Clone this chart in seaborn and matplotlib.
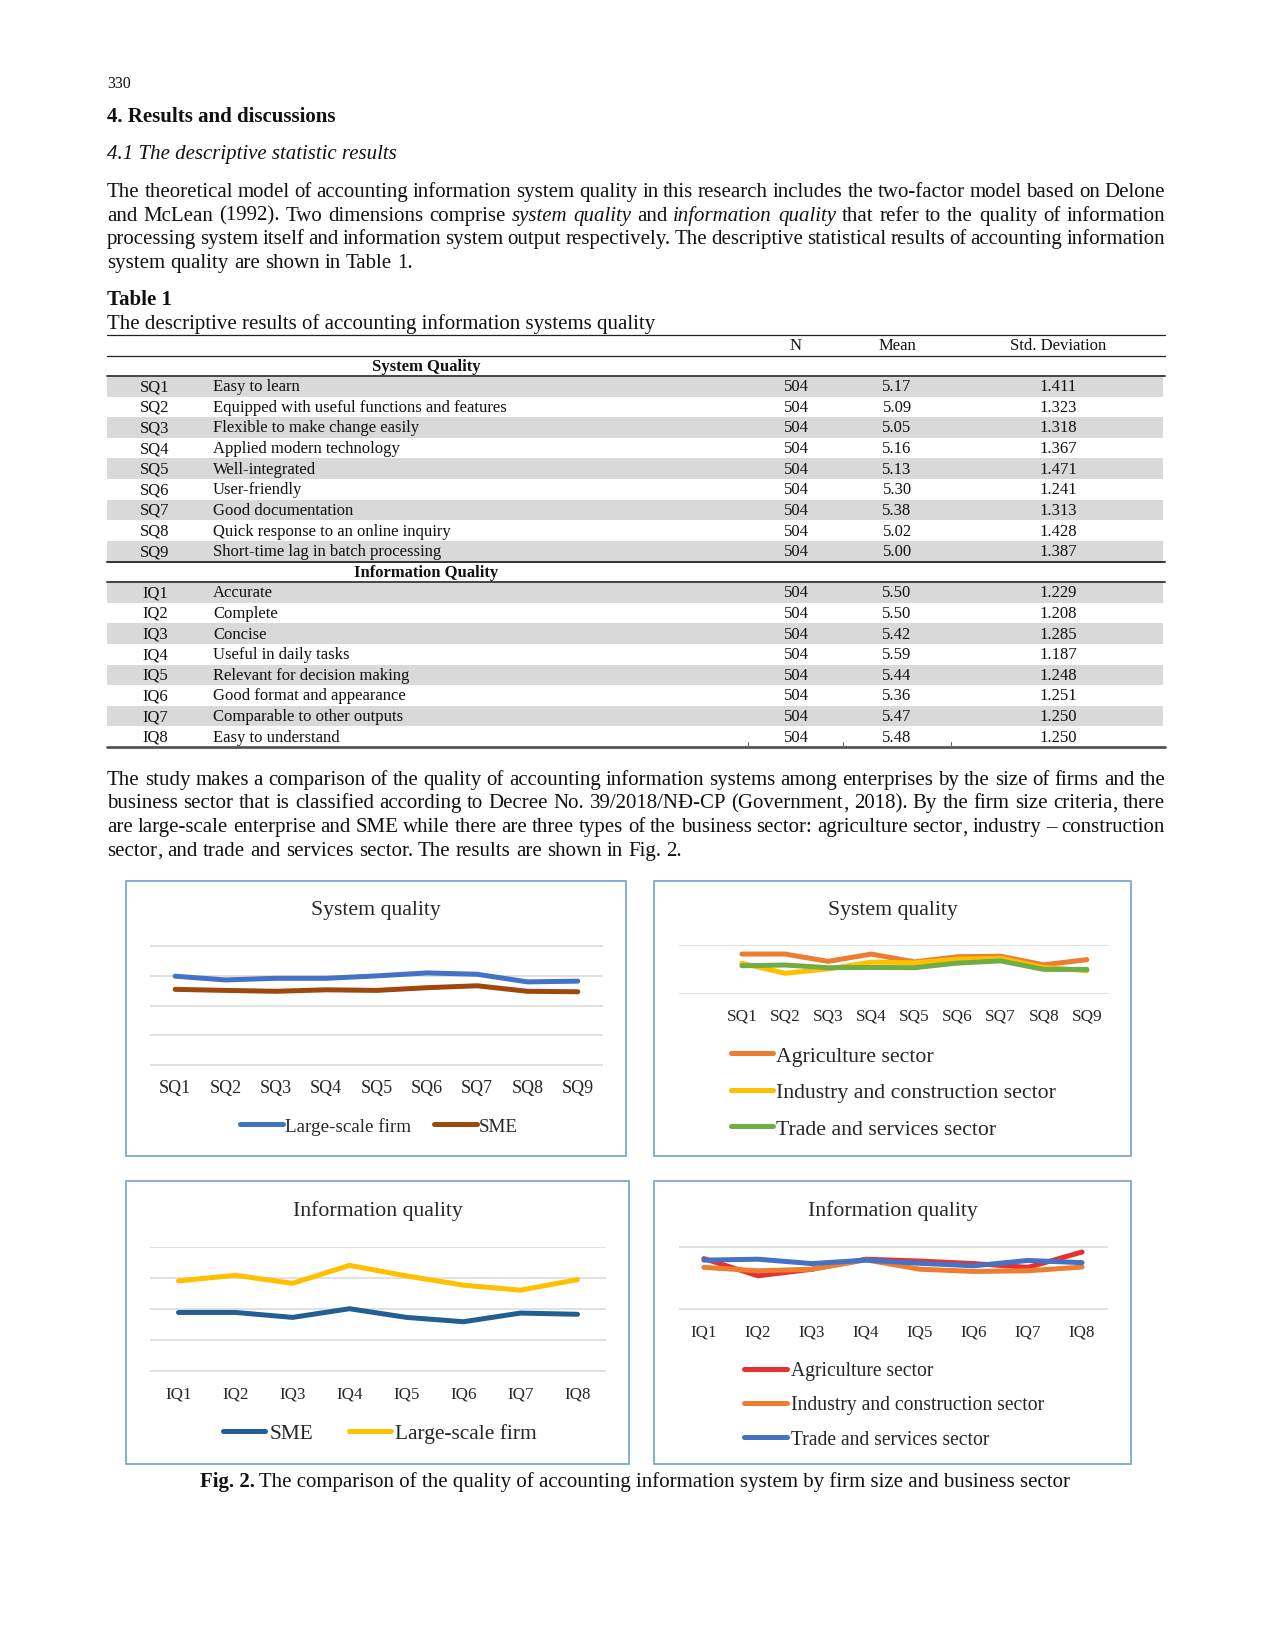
import numpy as np
import pandas as pd
import matplotlib
matplotlib.use("Agg")
import matplotlib.pyplot as plt
import seaborn as sns
from matplotlib.patches import Rectangle
from matplotlib.lines import Line2D

W, H = 1274, 1649
sns.set_theme(style="white")
plt.rcParams["font.family"] = ["Liberation Serif", "DejaVu Serif"]

# Table 1 data
sq_codes = ["SQ1", "SQ2", "SQ3", "SQ4", "SQ5", "SQ6", "SQ7", "SQ8", "SQ9"]
sq_items = ["Easy to learn", "Equipped with useful functions and features",
            "Flexible to make change easily", "Applied modern technology",
            "Well-integrated", "User-friendly", "Good documentation",
            "Quick response to an online inquiry", "Short-time lag in batch processing"]
sq_n = [504, 504, 504, 504, 504, 504, 504, 504, 504]
sq_mean = [5.17, 5.09, 5.05, 5.16, 5.13, 5.30, 5.38, 5.02, 5.00]
sq_std = [1.411, 1.323, 1.318, 1.367, 1.471, 1.241, 1.313, 1.428, 1.387]

iq_codes = ["IQ1", "IQ2", "IQ3", "IQ4", "IQ5", "IQ6", "IQ7", "IQ8"]
iq_items = ["Accurate", "Complete", "Concise", "Useful in daily tasks",
            "Relevant for decision making", "Good format and appearance",
            "Comparable to other outputs", "Easy to understand"]
iq_n = [504, 504, 504, 504, 504, 504, 504, 504]
iq_mean = [5.50, 5.50, 5.42, 5.59, 5.44, 5.36, 5.47, 5.48]
iq_std = [1.229, 1.208, 1.285, 1.187, 1.248, 1.251, 1.250, 1.250]

# Fig. 2 data
size_sq_large = [5.96, 5.71, 5.82, 5.82, 5.98, 6.18, 6.09, 5.58, 5.63]
size_sq_sme = [5.08, 5.01, 4.95, 5.05, 5.01, 5.19, 5.32, 4.95, 4.92]
sector_sq_agri = [5.64, 5.64, 5.34, 5.64, 5.32, 5.53, 5.55, 5.20, 5.41]
sector_sq_ind = [5.26, 4.85, 5.03, 5.31, 5.28, 5.43, 5.47, 5.09, 4.96]
sector_sq_trade = [5.16, 5.19, 5.08, 5.09, 5.08, 5.27, 5.36, 5.01, 5.01]
size_iq_sme = [5.45, 5.45, 5.37, 5.51, 5.37, 5.30, 5.44, 5.42]
size_iq_large = [5.96, 6.05, 5.92, 6.21, 6.04, 5.89, 5.81, 5.98]
sector_iq_agri = [5.62, 5.07, 5.28, 5.60, 5.54, 5.46, 5.34, 5.83]
sector_iq_ind = [5.34, 5.23, 5.28, 5.58, 5.28, 5.21, 5.23, 5.35]
sector_iq_trade = [5.57, 5.60, 5.46, 5.57, 5.47, 5.39, 5.56, 5.49]

para1 = ["The theoretical model of accounting information system quality in this research includes the two-factor model based on Delone",
         "and McLean (1992). Two dimensions comprise _system _quality and _information _quality that refer to the quality of information",
         "processing system itself and information system output respectively. The descriptive statistical results of accounting information",
         "system quality are shown in Table 1."]
para2 = ["The study makes a comparison of the quality of accounting information systems among enterprises by the size of firms and the",
         "business sector that is classified according to Decree No. 39/2018/NĐ-CP (Government, 2018). By the firm size criteria, there",
         "are large-scale enterprise and SME while there are three types of the business sector: agriculture sector, industry – construction",
         "sector, and trade and services sector. The results are shown in Fig. 2."]

fig = plt.figure(figsize=(W / 100, H / 100), dpi=100)
fig.patch.set_facecolor("white")
renderer = fig.canvas.get_renderer()

X0, X1 = 107, 1165
BODY = 15
TXT = "#111111"
CTXT = "#262626"


def put(x, y, s, size=BODY, ha="left", va="center", color=TXT, **kw):
    return fig.text(x / W, 1 - y / H, s, fontsize=size, ha=ha, va=va, color=color, **kw)


def hline(x0, x1, y, lw, color="#222222"):
    fig.add_artist(Line2D([x0 / W, x1 / W], [1 - y / H, 1 - y / H], lw=lw, color=color,
                          transform=fig.transFigure))


def justified(y, line, last=False, size=BODY):
    # y is the visual centre of the line; words sit on a common baseline,
    # a trailing comma gets its own text so the word is not nudged by it
    base = y + 0.235 * size / 72 * 100
    units = []
    for w in line.split(" "):
        st = "italic" if w.startswith("_") else "normal"
        w = w.lstrip("_")
        parts = [w[:-1], ","] if w.endswith(",") and len(w) > 1 else [w]
        arts = [put(0, base, p, size=size, va="baseline", style=st) for p in parts]
        units.append((arts, [a.get_window_extent(renderer).width for a in arts]))
    total = sum(sum(ws) for _, ws in units)
    gap = size * 0.25 / 72 * 100 if last else (X1 - X0 - total) / (len(units) - 1)
    x = X0
    for arts, ws in units:
        for a, w in zip(arts, ws):
            a.set_x(x / W)
            x += w
        x += gap


# header text
put(X0, 84, "330", size=11.5)
put(X0, 117, "4. Results and discussions", weight="bold")
put(X0, 155, "4.1 The descriptive statistic results", style="italic")
for i, line in enumerate(para1):
    justified(192 + i * 23.8, line, last=(i == len(para1) - 1))

# table
put(X0, 300, "Table 1", weight="bold")
put(X0, 324, "The descriptive results of accounting information systems quality")
TS = 12
hline(X0, X1, 336, 0.9)
put(796, 346, "N", size=TS, ha="center")
put(897, 346, "Mean", size=TS, ha="center")
put(1058, 346, "Std. Deviation", size=TS, ha="center")
hline(X0, X1, 356.5, 0.9)


def table_block(title, title_y, codes, items, ns, means, stds, y_first):
    put(426, title_y, title, size=TS, weight="bold", ha="center")
    for i in range(len(codes)):
        y = y_first + i * 20.63
        if i % 2 == 0:
            fig.add_artist(Rectangle((X0 / W, 1 - (y + 10.3) / H), (X1 - 2 - X0) / W, 20.6 / H,
                                     transform=fig.transFigure, color="#d9d9d9", lw=0))
        put(155, y, codes[i], size=TS, ha="center")
        put(213, y, items[i], size=TS)
        put(796, y, f"{ns[i]}", size=TS, ha="center")
        put(897, y, f"{means[i]:.2f}", size=TS, ha="center")
        put(1058, y, f"{stds[i]:.3f}", size=TS, ha="center")


table_block("System Quality", 367, sq_codes, sq_items, sq_n, sq_mean, sq_std, 387.2)
hline(X0, X1, 377, 1.4, "#444444")
hline(X0, X1, 562.8, 1.4, "#333333")
table_block("Information Quality", 573, iq_codes, iq_items, iq_n, iq_mean, iq_std, 593.3)
hline(X0, X1, 583, 1.4, "#444444")
hline(X0, X1, 748.3, 2.0, "#555555")
for xv in [748, 843, 951]:
    fig.add_artist(Line2D([xv / W, xv / W], [1 - 743 / H, 1 - 748 / H], lw=0.8, color="#666666",
                          transform=fig.transFigure))

for i, line in enumerate(para2):
    justified(780 + i * 23.6, line, last=(i == len(para2) - 1))

# charts
BORDER = "#7ea6d8"


def chart(box, area, cats, names, values, colors, ylim, yticks, xlim, title, tick_y, tick_size, leg):
    bx0, by0, bx1, by1 = box
    fig.add_artist(Rectangle((bx0 / W, 1 - by1 / H), (bx1 - bx0) / W, (by1 - by0) / H,
                             transform=fig.transFigure, fill=False, ec=BORDER, lw=1.3))
    put((bx0 + bx1) / 2, by0 + 29, title, size=15.7, ha="center", color=CTXT)
    ax0, ay0, ax1, ay1 = area
    ax = fig.add_axes([ax0 / W, 1 - ay1 / H, (ax1 - ax0) / W, (ay1 - ay0) / H])
    ax.patch.set_alpha(0)
    df = pd.DataFrame({"item": cats * len(names),
                       "group": np.repeat(names, len(cats)),
                       "value": np.concatenate(values)})
    sns.lineplot(data=df, x="item", y="value", hue="group", hue_order=names,
                 palette=dict(zip(names, colors)), lw=3.6, sort=False, legend=False, ax=ax,
                 solid_capstyle="round", solid_joinstyle="round")
    pad_y = (ylim[1] - ylim[0]) * 0.006
    ax.set_ylim(ylim[0] - pad_y, ylim[1] + pad_y)
    ax.set_xlim(*xlim)
    ax.set_yticks(yticks)
    ax.yaxis.grid(True, color="#d9d9d9", lw=1.1)
    ax.xaxis.grid(False)
    ax.set_axisbelow(True)
    for s in ax.spines.values():
        s.set_visible(False)
    ax.set_xlabel("")
    ax.set_ylabel("")
    size_px = tick_size / 72 * 100
    pad = max(tick_y - ay1 - 0.58 * size_px - 6, 1) * 0.72
    ax.tick_params(axis="y", left=False, labelleft=False)
    ax.tick_params(axis="x", bottom=False, pad=pad, labelsize=tick_size, labelcolor=CTXT)
    handles = [Line2D([], [], color=c, lw=3.6, solid_capstyle="round") for c in colors]
    lx, ly = leg.pop("anchor")
    ax.legend(handles, names, bbox_to_anchor=(lx / W, 1 - ly / H), bbox_transform=fig.transFigure,
              frameon=False, borderpad=0, borderaxespad=0, labelcolor=CTXT, **leg)


chart((126, 882, 626, 1157), (150, 946, 603, 1067), sq_codes,
      ["Large-scale firm", "SME"], [size_sq_large, size_sq_sme], ["#4472c4", "#9e480e"],
      (0, 8), [0, 2, 4, 6, 8], (-0.5, 8.5), "System quality", 1088, 13,
      dict(anchor=(379, 1127), loc="center", ncol=2, fontsize=13.7, handlelength=2.25,
           handletextpad=0.1, columnspacing=1.2))

chart((654, 882, 1131, 1157), (679, 946, 1108, 995.3), sq_codes,
      ["Agriculture sector", "Industry and construction sector", "Trade and services sector"],
      [sector_sq_agri, sector_sq_ind, sector_sq_trade], ["#ed7d31", "#ffc000", "#70ad47"],
      (4, 6), [4, 6], (-1.46, 8.49), "System quality", 1016, 12.4,
      dict(anchor=(731, 1093), loc="center left", ncol=1, fontsize=15.7, handlelength=1.93,
           handletextpad=0.14, labelspacing=0.74))

chart((126, 1182, 629, 1465), (150, 1247.7, 606, 1373), iq_codes,
      ["SME", "Large-scale firm"], [size_iq_sme, size_iq_large], ["#255e91", "#ffc000"],
      (4.5, 6.5), [4.5, 5.0, 5.5, 6.0, 6.5], (-0.5, 7.5), "Information quality", 1394, 12.2,
      dict(anchor=(380, 1434), loc="center", ncol=2, fontsize=15.4, handlelength=1.96,
           handletextpad=0.2, columnspacing=1.66))

chart((654, 1182, 1131, 1465), (679, 1247.3, 1108, 1310.7), iq_codes,
      ["Agriculture sector", "Industry and construction sector", "Trade and services sector"],
      [sector_iq_agri, sector_iq_ind, sector_iq_trade], ["#e8312f", "#ed7d31", "#4472c4"],
      (4, 6), [4, 6], (-0.46, 7.48), "Information quality", 1332, 12.2,
      dict(anchor=(744, 1406), loc="center left", ncol=1, fontsize=14.1, handlelength=2.2,
           handletextpad=0.2, labelspacing=0.77))

# caption
cap_b = put(0, 1482, "Fig. 2.", weight="bold")
cap_r = put(0, 1482, " The comparison of the quality of accounting information system by firm size and business sector")
wb = cap_b.get_window_extent(renderer).width
wr = cap_r.get_window_extent(renderer).width
start = 635 - (wb + wr) / 2
cap_b.set_x(start / W)
cap_r.set_x((start + wb) / W)

fig.savefig("out.png", dpi=100, facecolor="white")
